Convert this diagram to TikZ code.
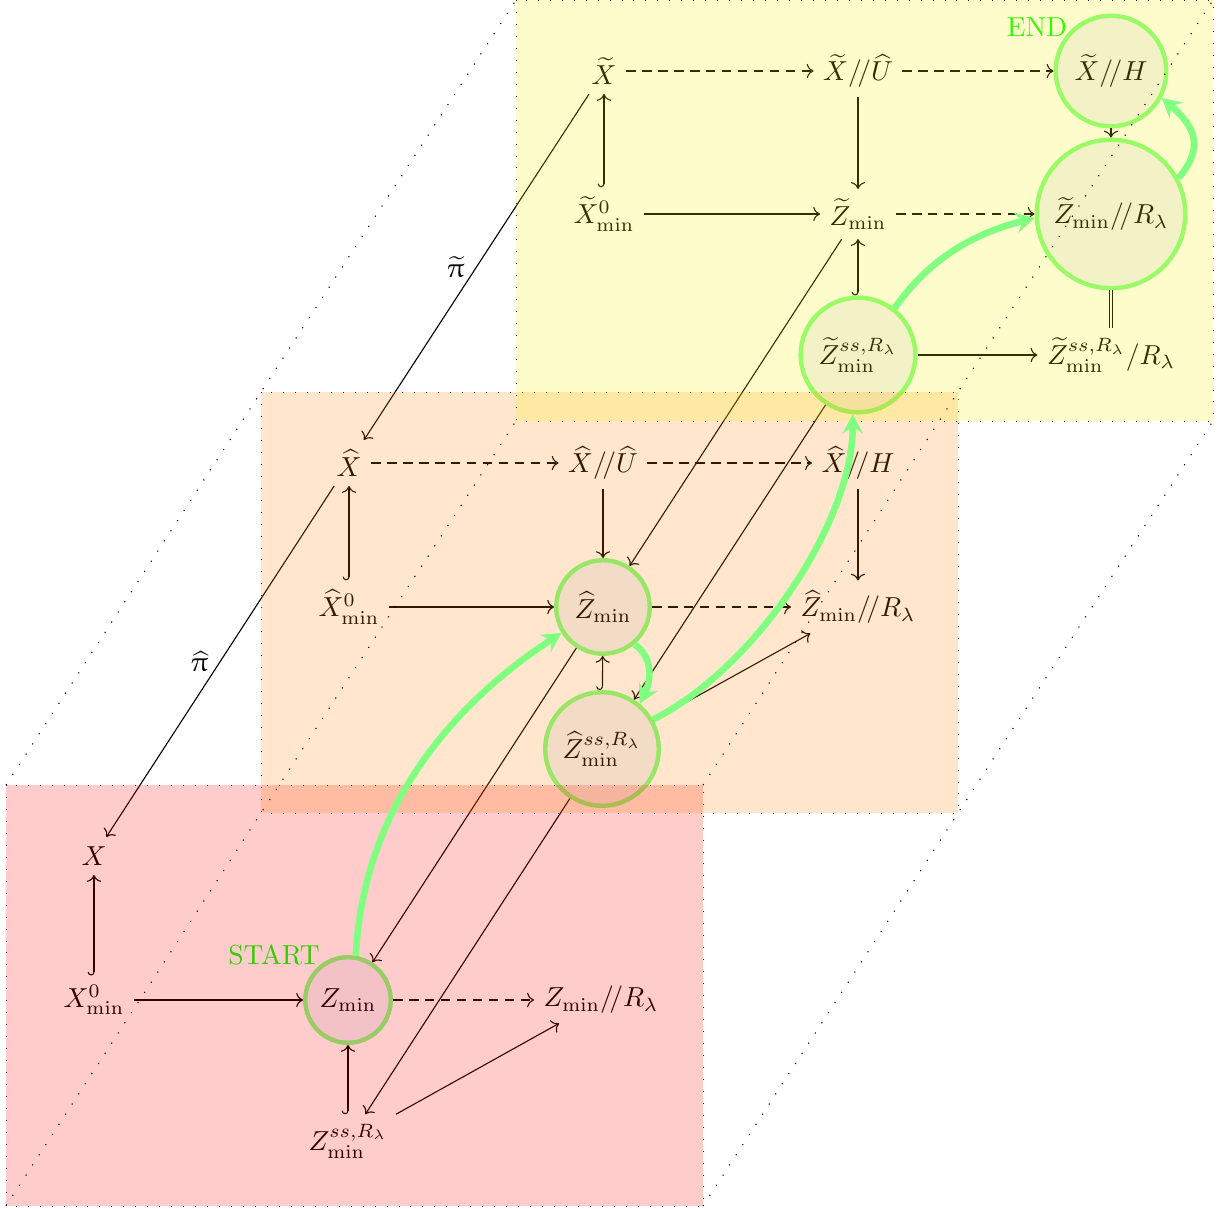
\documentclass[tikz,border=0pt]{standalone}
\usepackage{amsmath,amssymb}
\usepackage{upgreek}
\usetikzlibrary{arrows.meta}
\definecolor{ringfill}{RGB}{241,243,248}

\begin{document}
\begin{tikzpicture}[
  x=0.3636pt, y=-0.3636pt,
  every node/.style={inner sep=3.3pt},
  ring/.style={circle, draw=green!50, line width=1.6pt, fill=ringfill, inner sep=0pt},
  cdarrow/.style={line width=0.4pt, ->},
  dasharrow/.style={cdarrow, dash pattern=on 3.5pt off 2.3pt},
  hookarrow/.style={line width=0.4pt, arrows={Hooks[right]}->},
  eqline/.style={line width=0.4pt, double, double distance=1pt},
  tag/.style={text=green, inner sep=0pt},
  layer/.style={fill opacity=0.2, draw=black!85, line width=0.35pt, loosely dotted},
  edge3d/.style={line width=0.4pt, loosely dotted},
  flow/.style={draw=green!50, line width=2.4pt,
    arrows={-Stealth[length=7pt,width=7.5pt,inset=2.5pt]}},
]
\useasboundingbox (0,0) rectangle (1220,1209);

% ---- bottom level ----
\node (X)   at (94,856)   {$X$};
\node (X0)  at (94,1000)  {$X^0_{\min}$};
\node[ring, minimum size=31.1pt] (Z) at (348,1000) {$Z_{\min}$};
\node (ZR)  at (601,1000) {$Z_{\min}/\!/R_\lambda$};
\node (Zss) at (348,1141) {$Z^{ss,R_\lambda}_{\min}$};
\node[tag] (start) at (274,955) {START};

% ---- middle level ----
\node (hX)   at (349,463) {$\widehat{X}$};
\node (hXU)  at (603,463) {$\widehat{X}/\!/\widehat{U}$};
\node (hXH)  at (858,463) {$\widehat{X}/\!/H$};
\node (hX0)  at (349,607) {$\widehat{X}^0_{\min}$};
\node[ring, minimum size=34pt] (hZ) at (603,607) {$\widehat{Z}_{\min}$};
\node (hZR)  at (858,607) {$\widehat{Z}_{\min}/\!/R_\lambda$};
\node[ring, minimum size=41.3pt] (hZss) at (602,749) {$\widehat{Z}^{ss,R_\lambda}_{\min}$};

% ---- top level ----
\node (tX)   at (604,71)  {$\widetilde{X}$};
\node (tXU)  at (858,71)  {$\widetilde{X}/\!/\widehat{U}$};
\node[ring, minimum size=40.2pt] (tXH) at (1111,71) {$\widetilde{X}/\!/H$};
\node (tX0)  at (604,214) {$\widetilde{X}^0_{\min}$};
\node (tZ)   at (858,214) {$\widetilde{Z}_{\min}$};
\node[ring, minimum size=54pt] (tZR) at (1111,214) {$\widetilde{Z}_{\min}/\!/R_\lambda$};
\node[ring, minimum size=41.7pt] (tZss) at (858,355) {$\widetilde{Z}^{ss,R_\lambda}_{\min}$};
\node (tZssR) at (1111,355) {$\widetilde{Z}^{ss,R_\lambda}_{\min}/R_\lambda$};
\node[tag] (end) at (1037,27) {END};

% ---- arrows in the bottom level ----
\draw[hookarrow] (X0) -- (X);
\draw[cdarrow] (X0) -- (Z);
\draw[dasharrow] (Z) -- (ZR);
\draw[hookarrow] (Zss) -- (Z);
\draw[cdarrow] (Zss) -- (ZR);

% ---- arrows in the middle level ----
\draw[dasharrow] (hX) -- (hXU);
\draw[dasharrow] (hXU) -- (hXH);
\draw[hookarrow] (hX0) -- (hX);
\draw[cdarrow] (hX0) -- (hZ);
\draw[cdarrow] (hXU) -- (hZ);
\draw[cdarrow] (hXH) -- (hZR);
\draw[dasharrow] (hZ) -- (hZR);
\draw[hookarrow] (hZss) -- (hZ);
\draw[cdarrow] (hZss) -- (hZR);

% ---- arrows in the top level ----
\draw[dasharrow] (tX) -- (tXU);
\draw[dasharrow] (tXU) -- (tXH);
\draw[hookarrow] (tX0) -- (tX);
\draw[cdarrow] (tX0) -- (tZ);
\draw[cdarrow] (tXU) -- (tZ);
\draw[cdarrow] (tXH) -- (tZR);
\draw[dasharrow] (tZ) -- (tZR);
\draw[hookarrow] (tZss) -- (tZ);
\draw[eqline] (tZR) -- (tZssR);
\draw[cdarrow] (tZss) -- (tZssR);

% ---- maps between levels ----
\draw[cdarrow] (tX) -- node[midway, left=1pt] {$\widetilde{\uppi}$} (hX);
\draw[cdarrow] (hX) -- node[midway, left=1pt] {$\widehat{\uppi}$} (X);
\draw[cdarrow] (tZ) -- (hZ);
\draw[cdarrow] (hZ) -- (Z);
\draw[cdarrow] (tZss) -- (hZss);
\draw[cdarrow] (hZss) -- (Zss);

% ---- tinted planes ----
\path[layer, fill=red]    (6,785)   rectangle (703,1206);
\path[layer, fill=orange] (261,392) rectangle (958,813);
\path[layer, fill=yellow] (516,0)   rectangle (1213,421);

% ---- edges joining the planes ----
\draw[edge3d] (6,785)    -- (261,392) -- (516,0);
\draw[edge3d] (6,1206)   -- (261,813) -- (516,421);
\draw[edge3d] (703,785)  -- (958,392) -- (1213,0);
\draw[edge3d] (703,1206) -- (958,813) -- (1213,421);

% ---- highlighted route ----
\draw[flow] (Z.80) .. controls +(8,-160) and +(-95,62) .. (hZ.212);
\draw[flow] (hZ.-50) .. controls +(18,12) and +(12,-25) .. (hZss.50);
\draw[flow] (hZss.30) .. controls +(100,-50) and +(0,110) .. (tZss.-95);
\draw[flow] (tZss.52) .. controls +(35,-50) and +(-60,15) .. (tZR.183);
\draw[flow] (tZR.28) .. controls +(25,-30) and +(35,30) .. (tXH.-28);
\end{tikzpicture}
\end{document}
